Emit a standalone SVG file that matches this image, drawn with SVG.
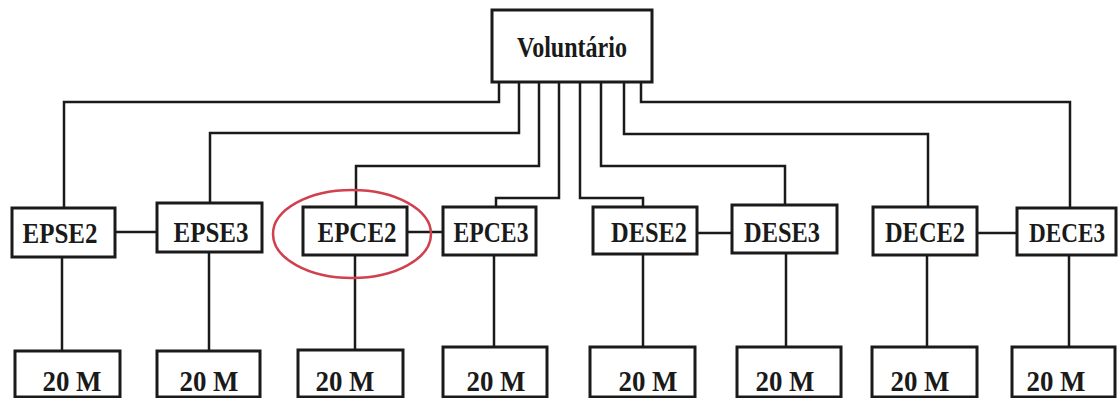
<svg xmlns="http://www.w3.org/2000/svg" width="1119" height="398" viewBox="0 0 1119 398">
<style>
.box{fill:#fff;stroke:#1a1a1a;stroke-width:3}
.lbl{font-family:"Liberation Serif","Times New Roman",serif;font-weight:bold;font-size:30px;fill:#1a1a1a;text-anchor:middle}
.con{fill:none;stroke:#1a1a1a;stroke-width:2.5}
</style>
<rect width="1119" height="398" fill="#fff"/>
<g id="connectors" class="con">
<polyline points="499,82 499,102 64,102 64,208"/>
<polyline points="519,82 519,133 210,133 210,203"/>
<polyline points="539,82 539,166 356,166 356,207"/>
<polyline points="559,82 559,198 496,198 496,207"/>
<polyline points="580,82 580,198 643,198 643,207"/>
<polyline points="601,82 601,166 785,166 785,205"/>
<polyline points="624,82 624,134 928,134 928,207"/>
<polyline points="641,82 641,102 1070,102 1070,208"/>
<line x1="115" y1="232" x2="157" y2="232"/>
<line x1="407" y1="232" x2="443" y2="232"/>
<line x1="697" y1="233" x2="732" y2="233"/>
<line x1="977" y1="233" x2="1017" y2="233"/>
<line x1="62" y1="257" x2="62" y2="351"/>
<line x1="209" y1="252" x2="209" y2="351"/>
<line x1="355" y1="255" x2="355" y2="350"/>
<line x1="494" y1="255" x2="494" y2="347"/>
<line x1="643" y1="254" x2="643" y2="347"/>
<line x1="786" y1="253" x2="786" y2="347"/>
<line x1="927" y1="255" x2="927" y2="347"/>
<line x1="1069" y1="255" x2="1069" y2="347"/>
</g>
<g id="voluntario"><rect class="box" x="492" y="10" width="160" height="72"/><text class="lbl" x="572" y="57" textLength="110" lengthAdjust="spacingAndGlyphs">Voluntário</text></g>
<g id="epse2"><rect class="box" x="12" y="208" width="103" height="49"/><text class="lbl" x="60" y="243" textLength="75" lengthAdjust="spacingAndGlyphs">EPSE2</text></g>
<g id="epse3"><rect class="box" x="157" y="203" width="105" height="49"/><text class="lbl" x="211" y="242" textLength="75" lengthAdjust="spacingAndGlyphs">EPSE3</text></g>
<g id="epce2"><rect class="box" x="303" y="207" width="104" height="48"/><text class="lbl" x="357" y="242" textLength="79" lengthAdjust="spacingAndGlyphs">EPCE2</text></g>
<g id="epce3"><rect class="box" x="443" y="207" width="93" height="48"/><text class="lbl" x="491" y="242" textLength="75" lengthAdjust="spacingAndGlyphs">EPCE3</text></g>
<g id="dese2"><rect class="box" x="593" y="207" width="104" height="47"/><text class="lbl" x="649" y="242" textLength="76" lengthAdjust="spacingAndGlyphs">DESE2</text></g>
<g id="dese3"><rect class="box" x="732" y="205" width="105" height="48"/><text class="lbl" x="782" y="242" textLength="76" lengthAdjust="spacingAndGlyphs">DESE3</text></g>
<g id="dece2"><rect class="box" x="873" y="207" width="104" height="48"/><text class="lbl" x="925" y="242" textLength="80" lengthAdjust="spacingAndGlyphs">DECE2</text></g>
<g id="dece3"><rect class="box" x="1017" y="208" width="99" height="47"/><text class="lbl" x="1067" y="242" style="font-size:28px" textLength="76" lengthAdjust="spacingAndGlyphs">DECE3</text></g>
<g id="m1"><rect class="box" x="15" y="351" width="105" height="46"/><text class="lbl" x="72" y="391" textLength="59" lengthAdjust="spacingAndGlyphs">20 M</text></g>
<g id="m2"><rect class="box" x="157" y="351" width="103" height="46"/><text class="lbl" x="209" y="391" textLength="59" lengthAdjust="spacingAndGlyphs">20 M</text></g>
<g id="m3"><rect class="box" x="298" y="350" width="105" height="47"/><text class="lbl" x="345" y="391" textLength="59" lengthAdjust="spacingAndGlyphs">20 M</text></g>
<g id="m4"><rect class="box" x="443" y="347" width="104" height="50"/><text class="lbl" x="496" y="391" textLength="59" lengthAdjust="spacingAndGlyphs">20 M</text></g>
<g id="m5"><rect class="box" x="590" y="347" width="105" height="50"/><text class="lbl" x="648" y="391" textLength="59" lengthAdjust="spacingAndGlyphs">20 M</text></g>
<g id="m6"><rect class="box" x="737" y="347" width="104" height="50"/><text class="lbl" x="785" y="391" textLength="59" lengthAdjust="spacingAndGlyphs">20 M</text></g>
<g id="m7"><rect class="box" x="872" y="347" width="105" height="50"/><text class="lbl" x="920" y="391" textLength="59" lengthAdjust="spacingAndGlyphs">20 M</text></g>
<g id="m8"><rect class="box" x="1012" y="347" width="103" height="50"/><text class="lbl" x="1056" y="391" textLength="59" lengthAdjust="spacingAndGlyphs">20 M</text></g>
<ellipse id="highlight" cx="352" cy="234" rx="79" ry="44" fill="none" stroke="#d0404e" stroke-width="2.5"/>
</svg>
